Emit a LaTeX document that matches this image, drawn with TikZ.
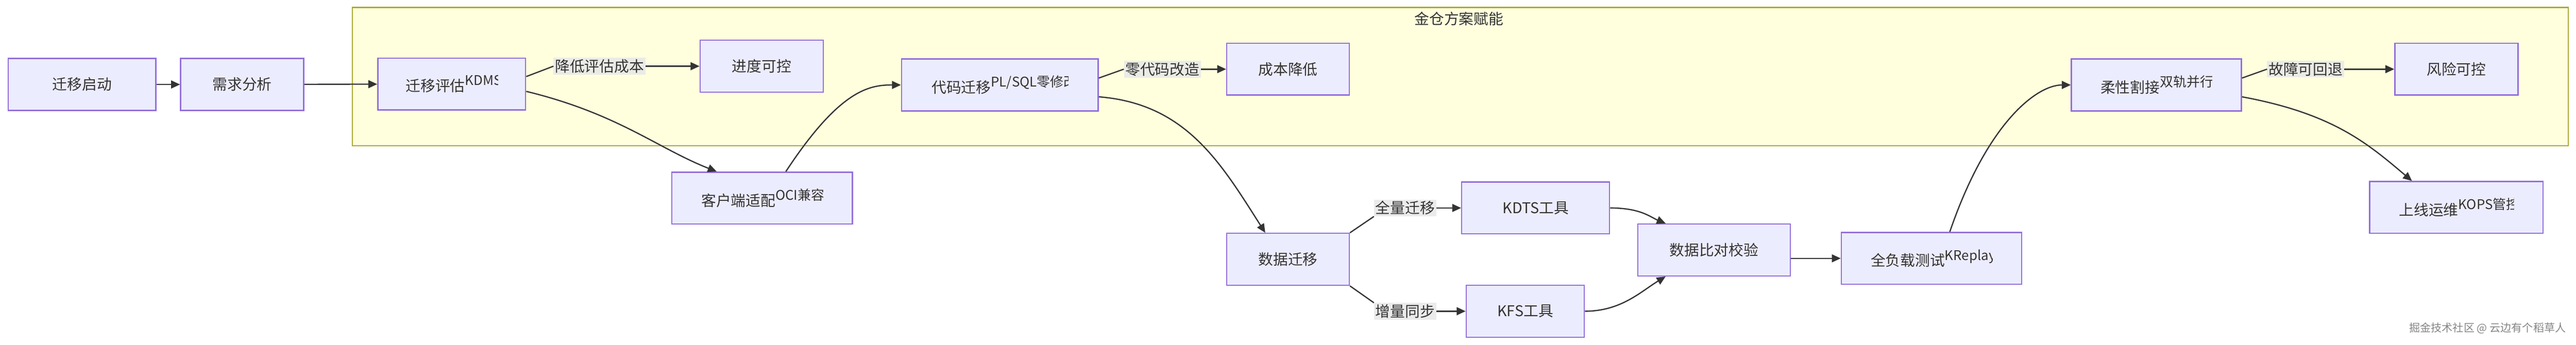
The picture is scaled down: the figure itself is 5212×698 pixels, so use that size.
\documentclass[tikz,border=0pt]{standalone}
\usepackage{fontspec}
\setmainfont{Noto Sans CJK SC}
\usetikzlibrary{arrows.meta}
\definecolor{nfill}{HTML}{ECECFF}
\definecolor{nline}{HTML}{9370DB}
\definecolor{cfill}{HTML}{FFFFDE}
\definecolor{cline}{HTML}{AAAA33}
\definecolor{ink}{HTML}{333333}
\definecolor{lbg}{HTML}{E8E8E8}
\newcommand{\sups}[1]{\raisebox{12pt}{\fontsize{27}{27}\selectfont #1}}
\newcommand{\cliptext}[4]{% name, box node, half width, text
  \begin{scope}
  \clip ([xshift=-#3pt,yshift=-45pt]#2.center) rectangle ([xshift=#3pt,yshift=45pt]#2.center);
  \node[anchor=west,inner sep=0pt,outer sep=0pt] (#1) at ([xshift=-#3pt]#2.center) {#4};
  \end{scope}}
\begin{document}
\begin{tikzpicture}[x=1pt,y=-1pt,
  font=\fontsize{30}{33}\selectfont, text=ink,
  box/.style={draw=nline,fill=nfill,line width=2.5pt,minimum width=#1,minimum height=105,inner sep=0},
  box/.default=250,
  lab/.style={fill=lbg,fill opacity=0.85,text opacity=1,inner sep=3pt},
  arr/.style={draw=ink,line width=2.5pt,-{Triangle[length=18pt,width=16pt]}},
  ln/.style={draw=ink,line width=2.5pt}]
\useasboundingbox (0,0) rectangle (5212,698);
\fill[white] (0,0) rectangle (5212,698);
\node[draw=cline,fill=cfill,line width=2.5pt,minimum width=4483,minimum height=280,anchor=north west] (cl) at (712,14) {};
\node (title) at (2952,38) {金仓方案赋能};
% nodes
\node[box=299] (a) at (166,171) {迁移启动};
\node[box=249] (b) at (490,171) {需求分析};
\node[box=299] (c) at (914,170) {};
\node[box=249] (d) at (1541,134) {进度可控};
\node[box=365] (e) at (1542,401) {};
\node[box=398] (f) at (2023,172) {};
\node[box=248] (g) at (2606,140) {成本降低};
\node[box=248] (h) at (2606,525) {数据迁移};
\node[box=299] (i) at (3107,421) {KDTS工具};
\node[box=239] (j) at (3086,630) {KFS工具};
\node[box=309] (k) at (3468,506) {数据比对校验};
\node[box=365] (l) at (3908,523) {};
\node[box=344] (m) at (4363,172) {};
\node[box=249] (n) at (4970,140) {风险可控};
\node[box=351] (o) at (4970,420) {};
\cliptext{ct}{c}{93}{迁移评估\sups{KDMS}}
\cliptext{et}{e}{123}{客户端适配\sups{OCI兼容}}
\cliptext{ft}{f}{138}{代码迁移\sups{PL/SQL零修改}}
\cliptext{lt}{l}{123}{全负载测试\sups{KReplay}}
\cliptext{mt}{m}{113}{柔性割接\sups{双轨并行}}
\cliptext{ot}{o}{116}{上线运维\sups{KOPS管控}}
% labels
\node[lab] (l1) at (1213,134) {降低评估成本};
\node[lab] (l2) at (2352,140) {零代码改造};
\node[lab] (l3) at (2843,421) {全量迁移};
\node[lab] (l4) at (2843,630) {增量同步};
\node[lab] (l5) at (4665,140) {故障可回退};
% edges
\draw[arr] (a) -- (b);
\draw[arr] (b) -- (c);
\draw[ln] (c.east |- 0,155) -- (l1.west);
\draw[arr] (l1.east) -- (d.west);
\draw[arr] (c.east |- 0,185) .. controls (1250,230) and (1330,300) .. (e.north west -| 1450,0);
\draw[arr] (e.north west -| 1590,0) .. controls (1700,180) and (1760,172) .. (f.west);
\draw[ln] (f.east |- 0,158) -- (l2.west);
\draw[arr] (l2.east) -- (g.west);
\draw[arr] (f.east |- 0,196) .. controls (2400,210) and (2470,330) .. (h.north -| 2560,0);
\draw[ln] (h.north east) -- (l3.south west);
\draw[arr] (l3.east) -- (i.west);
\draw[ln] (h.south east) -- (l4.north west);
\draw[arr] (l4.east) -- (j.west);
\draw[arr] (i.east) .. controls (3320,421) and (3340,440) .. (k.north west -| 3370,0);
\draw[arr] (j.east) .. controls (3280,630) and (3320,590) .. (k.south west -| 3370,0);
\draw[arr] (k.east |- 0,523) -- (l.west);
\draw[arr] (l.north -| 3945,0) .. controls (4020,250) and (4120,172) .. (m.west);
\draw[ln] (m.east |- 0,158) -- (l5.west);
\draw[arr] (l5.east) -- (n.west);
\draw[arr] (m.east |- 0,196) .. controls (4720,230) and (4790,290) .. (o.north -| 4880,0);
\node[anchor=east,font=\fontsize{22}{24}\selectfont,text=ink!60] (wm) at (5195,664) {掘金技术社区 @ 云边有个稻草人};
\end{tikzpicture}
\end{document}
